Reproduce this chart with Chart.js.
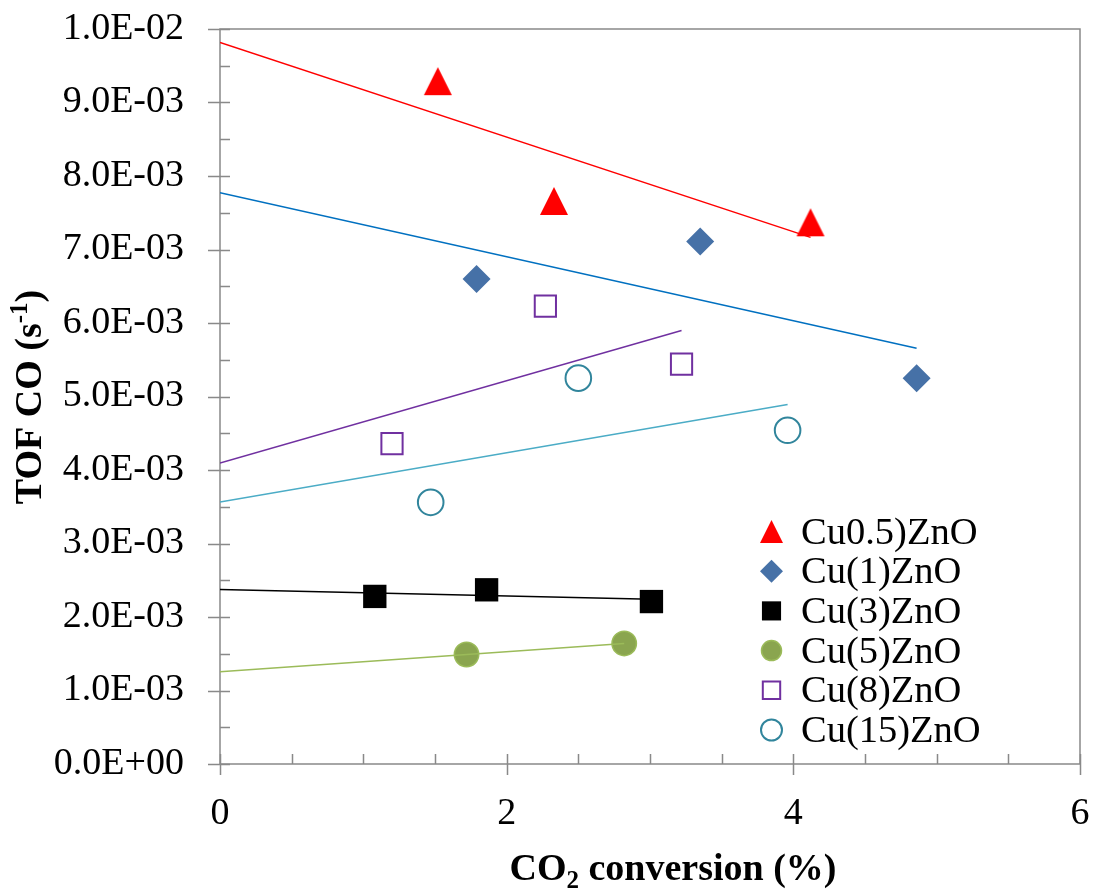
<!DOCTYPE html>
<html>
<head>
<meta charset="utf-8">
<script src="https://cdn.jsdelivr.net/npm/chart.js@4"></script>
<style>
  body { margin: 0; background: #fff; }
  #wrap { width: 1093px; height: 890px; }
</style>
</head>
<body>
<div id="wrap"><canvas id="tofChart" width="1093" height="890"></canvas></div>
<script>
const seriesNames = ["Cu0.5)ZnO", "Cu(1)ZnO", "Cu(3)ZnO", "Cu(5)ZnO", "Cu(8)ZnO", "Cu(15)ZnO"];

// CO2 conversion (%) and TOF CO (s-1) per catalyst
const cu05X = [1.52, 2.33, 4.12];
const cu05Y = [0.00929, 0.00766, 0.00737];
const cu1X = [1.79, 3.35, 4.86];
const cu1Y = [0.00660, 0.00711, 0.00525];
const cu3X = [1.08, 1.86, 3.01];
const cu3Y = [0.00228, 0.00237, 0.00221];
const cu5X = [1.72, 2.82];
const cu5Y = [0.00149, 0.00164];
const cu8X = [1.20, 2.27, 3.22];
const cu8Y = [0.00436, 0.00623, 0.00544];
const cu15X = [1.47, 2.50, 3.96];
const cu15Y = [0.00356, 0.00525, 0.00454];

const xTicks = [0, 2, 4, 6];
const xTickLabels = ["0", "2", "4", "6"];
const yTicks = [0, 0.001, 0.002, 0.003, 0.004, 0.005, 0.006, 0.007, 0.008, 0.009, 0.01];
const yTickLabels = ["0.0E+00", "1.0E-03", "2.0E-03", "3.0E-03", "4.0E-03", "5.0E-03",
  "6.0E-03", "7.0E-03", "8.0E-03", "9.0E-03", "1.0E-02"];

const SERIF = "'Liberation Serif', 'Times New Roman', serif";
const AXIS_GRAY = "#898989";

// triangle marker as an image so it sits centred in its box
function triangleImage(color, size) {
  const c = document.createElement("canvas");
  c.width = size + 2; c.height = size + 2;
  const g = c.getContext("2d");
  g.fillStyle = color;
  g.beginPath();
  g.moveTo(1 + size / 2, 1);
  g.lineTo(1 + size, 1 + size);
  g.lineTo(1, 1 + size);
  g.closePath();
  g.fill();
  return c;
}

function toPoints(xs, ys) {
  return xs.map((x, i) => ({ x: x, y: ys[i] }));
}

// least-squares line, extended back to x = 0 and forward to the last point
function trend(xs, ys) {
  const n = xs.length;
  const mx = xs.reduce((a, b) => a + b, 0) / n;
  const my = ys.reduce((a, b) => a + b, 0) / n;
  let sxy = 0, sxx = 0;
  for (let i = 0; i < n; i++) {
    sxy += (xs[i] - mx) * (ys[i] - my);
    sxx += (xs[i] - mx) * (xs[i] - mx);
  }
  const slope = sxy / sxx;
  const icpt = my - slope * mx;
  const xEnd = Math.max(...xs);
  return [{ x: 0, y: icpt }, { x: xEnd, y: icpt + slope * xEnd }];
}

const markers = [
  { pointStyle: triangleImage("#ff0000", 28), legendStyle: triangleImage("#ff0000", 23), radius: 15, bg: "#ff0000", border: "#ff0000", bw: 0 },
  { pointStyle: "rectRot", radius: 14, bg: "#4671a7", border: "#4671a7", bw: 0 },
  { pointStyle: "rect", radius: 16.5, bg: "#000000", border: "#000000", bw: 0 },
  { pointStyle: "circle", radius: 12.2, bg: "#8aa54f", border: "#9bbb59", bw: 1.5 },
  { pointStyle: "rect", radius: 15, bg: "rgba(0,0,0,0)", border: "#7030a0", bw: 2 },
  { pointStyle: "circle", radius: 12.8, bg: "rgba(0,0,0,0)", border: "#31859c", bw: 2 }
];
const lineColors = ["#ff0000", "#0070c0", "#000000", "#9bbb59", "#7030a0", "#4bacc6"];
const seriesX = [cu05X, cu1X, cu3X, cu5X, cu8X, cu15X];
const seriesY = [cu05Y, cu1Y, cu3Y, cu5Y, cu8Y, cu15Y];

const datasets = [];
seriesNames.forEach((name, i) => {
  const m = markers[i];
  datasets.push({
    label: name,
    data: toPoints(seriesX[i], seriesY[i]),
    showLine: false,
    pointStyle: m.pointStyle,
    pointRadius: m.radius,
    pointBackgroundColor: m.bg,
    pointBorderColor: m.border,
    pointBorderWidth: m.bw,
    order: 1
  });
});
seriesNames.forEach((name, i) => {
  datasets.push({
    label: name + " trend",
    data: trend(seriesX[i], seriesY[i]),
    showLine: true,
    borderColor: lineColors[i],
    borderWidth: 1.5,
    pointRadius: 0,
    fill: false,
    order: 0
  });
});

function noPad(s) {
  s.paddingTop = 0; s.paddingBottom = 0; s.paddingLeft = 0; s.paddingRight = 0;
}

// plot frame with crossing major ticks and inside minor ticks
const framePlugin = {
  id: "frame",
  beforeDatasetsDraw(chart) {
    const { ctx, chartArea: a, scales } = chart;
    const xs = scales.x, ys = scales.y;
    ctx.save();
    ctx.strokeStyle = AXIS_GRAY;
    ctx.lineWidth = 1.5;
    ctx.strokeRect(a.left, a.top, a.right - a.left, a.bottom - a.top);
    ctx.beginPath();
    for (let v = 0; v <= 6.001; v += 0.5) {
      const px = Math.round(xs.getPixelForValue(v)) + 0.5;
      const major = Math.abs(v % 2) < 1e-9;
      ctx.moveTo(px, a.bottom - 10);
      ctx.lineTo(px, a.bottom + (major ? 11 : 0));
    }
    for (let k = 0; k <= 20; k++) {
      const v = k * 0.0005;
      const py = Math.round(ys.getPixelForValue(v)) + 0.5;
      const major = k % 2 === 0;
      ctx.moveTo(a.left - (major ? 12 : 0), py);
      ctx.lineTo(a.left + 10, py);
    }
    ctx.stroke();
    ctx.restore();
  },
  afterDraw(chart) {
    const { ctx } = chart;
    ctx.save();
    ctx.fillStyle = "#000";
    ctx.textBaseline = "alphabetic";

    // x axis title with subscript
    const big = "bold 38px " + SERIF, small = "bold 25px " + SERIF;
    ctx.font = big;
    const w1 = ctx.measureText("CO").width;
    const w3 = ctx.measureText(" conversion (%)").width;
    ctx.font = small;
    const w2 = ctx.measureText("2").width;
    let x = 673 - (w1 + w2 + w3) / 2;
    const base = 880;
    ctx.font = big; ctx.fillText("CO", x, base); x += w1;
    ctx.font = small; ctx.fillText("2", x, base + 8); x += w2;
    ctx.font = big; ctx.fillText(" conversion (%)", x, base);

    // y axis title with superscript, rotated
    ctx.translate(41, 397);
    ctx.rotate(-Math.PI / 2);
    ctx.font = big;
    const t1 = ctx.measureText("TOF CO (s").width;
    const t3 = ctx.measureText(")").width;
    ctx.font = small;
    const t2 = ctx.measureText("-1").width;
    let y = -(t1 + t2 + t3) / 2;
    ctx.font = big; ctx.fillText("TOF CO (s", y, 0); y += t1;
    ctx.font = small; ctx.fillText("-1", y, -14); y += t2;
    ctx.font = big; ctx.fillText(")", y, 0);
    ctx.restore();

    // legend
    ctx.save();
    ctx.font = "38.5px " + SERIF;
    ctx.textBaseline = "middle";
    seriesNames.forEach((name, i) => {
      const m = markers[i];
      const cy = 531.5 + i * 39.7;
      ctx.fillStyle = m.bg;
      ctx.strokeStyle = m.border;
      ctx.lineWidth = m.bw;
      Chart.helpers.drawPoint(ctx, {
        pointStyle: m.legendStyle || m.pointStyle, radius: m.radius * 0.82, rotation: 0, borderWidth: m.bw
      }, 771.5, cy);
      ctx.fillStyle = "#000";
      ctx.fillText(name, 801, cy + 2);
    });
    ctx.restore();
  }
};

new Chart(document.getElementById("tofChart"), {
  type: "scatter",
  data: { datasets: datasets },
  options: {
    responsive: false,
    animation: false,
    events: [],
    layout: { autoPadding: false, padding: { top: 29, right: 13, left: 0, bottom: 0 } },
    plugins: { legend: { display: false }, tooltip: { enabled: false } },
    scales: {
      x: {
        type: "linear",
        min: 0, max: 6,
        afterBuildTicks: (s) => { s.ticks = xTicks.map(v => ({ value: v })); },
        afterFit: (s) => { s.height = 126; noPad(s); },
        grid: { display: false, drawTicks: false },
        border: { display: false },
        ticks: {
          padding: 27,
          color: "#000",
          font: { family: SERIF, size: 38 },
          maxRotation: 0,
          callback: (v, i) => xTickLabels[i]
        }
      },
      y: {
        type: "linear",
        min: 0, max: 0.01,
        afterBuildTicks: (s) => { s.ticks = yTicks.map(v => ({ value: v })); },
        afterFit: (s) => { s.width = 220; noPad(s); },
        grid: { display: false, drawTicks: false },
        border: { display: false },
        ticks: {
          padding: 36,
          color: "#000",
          font: { family: SERIF, size: 38 },
          callback: (v, i) => yTickLabels[i]
        }
      }
    }
  },
  plugins: [framePlugin]
});
</script>
</body>
</html>
